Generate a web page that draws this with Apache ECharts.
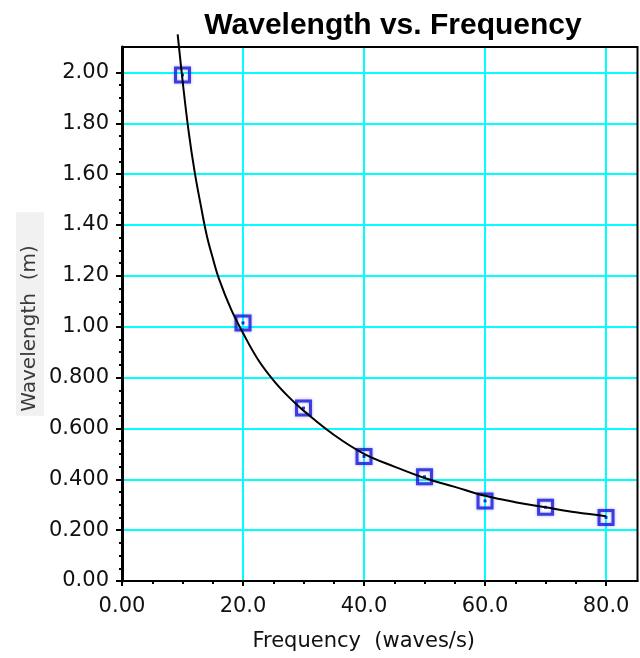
<!DOCTYPE html>
<html><head><meta charset="utf-8">
<script src="https://cdn.jsdelivr.net/npm/echarts@6/dist/echarts.min.js"></script>
<style>html,body{margin:0;padding:0;background:#fff}#c{width:640px;height:658px}</style>
</head><body><div id="c"></div>
<script>
// Measured data points
const frequency = [10, 20, 30, 40, 50, 60, 70, 80];
const wavelength = [1.99, 1.015, 0.68, 0.49, 0.41, 0.315, 0.29, 0.25];
// Fitted curve
const fitFrequency = [9.2, 10, 11, 12, 13, 14, 15, 16, 18, 20, 22.5, 25, 27.5, 30, 35, 40, 45, 50, 55, 60, 65, 70, 75, 80];
const fitWavelength = [2.15, 1.97, 1.77, 1.61, 1.48, 1.36, 1.27, 1.19, 1.07, 0.975, 0.87, 0.79, 0.725, 0.67, 0.575, 0.50, 0.45, 0.405, 0.37, 0.335, 0.31, 0.29, 0.27, 0.255];
// Ticks
const xTickValues = [0, 20, 40, 60, 80];
const xTickLabels = ['0.00', '20.0', '40.0', '60.0', '80.0'];
const yTickValues = [0, 0.2, 0.4, 0.6, 0.8, 1.0, 1.2, 1.4, 1.6, 1.8, 2.0];
const yTickLabels = ['0.00', '0.200', '0.400', '0.600', '0.800', '1.00', '1.20', '1.40', '1.60', '1.80', '2.00'];
const xMinorTicks = [5, 10, 15, 25, 30, 35, 45, 50, 55, 65, 70, 75];
const yMinorTicks = [];
for (let i = 1; i < 40; i++) { if (i % 4) yMinorTicks.push(+(i * 0.05).toFixed(2)); }

const fmt = (vals, labels) => v => {
  const i = vals.findIndex(t => Math.abs(t - v) < 1e-6);
  return i >= 0 ? labels[i] : '';
};
const font = 'DejaVu Sans';
const chart = echarts.init(document.getElementById('c'), null, {renderer: 'canvas'});
chart.setOption({
  animation: false,
  backgroundColor: '#fff',
  title: {
    text: 'Wavelength vs. Frequency', left: 388, top: 6, textAlign: 'center',
    textStyle: {fontFamily: 'Liberation Sans', fontWeight: 'bold', fontSize: 30, color: '#000'}
  },
  grid: {left: 122, right: 2.5, top: 47, bottom: 77, show: true, borderColor: '#000', borderWidth: 2, z: 1},
  xAxis: [{
    type: 'value', min: 0, max: 85.2, interval: 20,
    name: 'Frequency  (waves/s)', nameLocation: 'middle', nameGap: 50, nameMoveOverlap: false,
    nameTextStyle: {fontFamily: font, fontSize: 21, color: '#111', padding: [0, 32, 0, 0]},
    axisLine: {lineStyle: {color: '#000', width: 2}},
    axisTick: {customValues: xTickValues, length: 5, lineStyle: {color: '#000', width: 2}},
    axisLabel: {customValues: xTickValues, formatter: fmt(xTickValues, xTickLabels), margin: 15, fontFamily: font, fontSize: 21, color: '#111'},
    splitLine: {show: true, lineStyle: {color: '#00ffff', width: 2}}
  }, {
    type: 'value', min: 0, max: 85.2, position: 'bottom', gridIndex: 0,
    axisLine: {show: false},
    axisTick: {customValues: xMinorTicks, length: 3, lineStyle: {color: '#000', width: 2}},
    axisLabel: {show: false}, splitLine: {show: false}
  }],
  yAxis: [{
    type: 'value', min: 0, max: 2.1, interval: 0.2,
    name: 'Wavelength  (m)', nameLocation: 'middle', nameGap: 78, nameMoveOverlap: false,
    nameTextStyle: {fontFamily: font, fontSize: 20, color: '#3a3a3a', backgroundColor: '#f1f1f1', padding: [4, 33, 4, 4]},
    axisLine: {lineStyle: {color: '#000', width: 3}},
    axisTick: {customValues: yTickValues, length: 6, lineStyle: {color: '#000', width: 2}},
    axisLabel: {customValues: yTickValues, formatter: fmt(yTickValues, yTickLabels), margin: 13, fontFamily: font, fontSize: 21, color: '#111'},
    splitLine: {show: true, lineStyle: {color: '#00ffff', width: 2}}
  }, {
    type: 'value', min: 0, max: 2.1, position: 'left', gridIndex: 0,
    axisLine: {show: false},
    axisTick: {customValues: yMinorTicks, length: 3, lineStyle: {color: '#000', width: 2}},
    axisLabel: {show: false}, splitLine: {show: false}
  }],
  series: [{
    type: 'scatter', xAxisIndex: 0, yAxisIndex: 0,
    data: frequency.map((f, i) => [f, wavelength[i]]),
    symbol: 'rect', symbolSize: 14,
    itemStyle: {color: 'rgba(0,0,0,0)', borderColor: '#1c1cd6', borderWidth: 3, shadowBlur: 3, shadowColor: 'rgba(90,90,255,0.7)'},
    z: 3
  }, {
    type: 'scatter', xAxisIndex: 0, yAxisIndex: 0,
    data: frequency.map((f, i) => [f, wavelength[i]]),
    symbol: 'rect', symbolSize: 3,
    itemStyle: {color: '#0000cc'},
    z: 4
  }, {
    type: 'line', xAxisIndex: 0, yAxisIndex: 0,
    data: fitFrequency.map((f, i) => [f, fitWavelength[i]]),
    smooth: 0.4, showSymbol: false, clip: false,
    lineStyle: {color: '#000', width: 2},
    z: 5
  }]
});
</script></body></html>
